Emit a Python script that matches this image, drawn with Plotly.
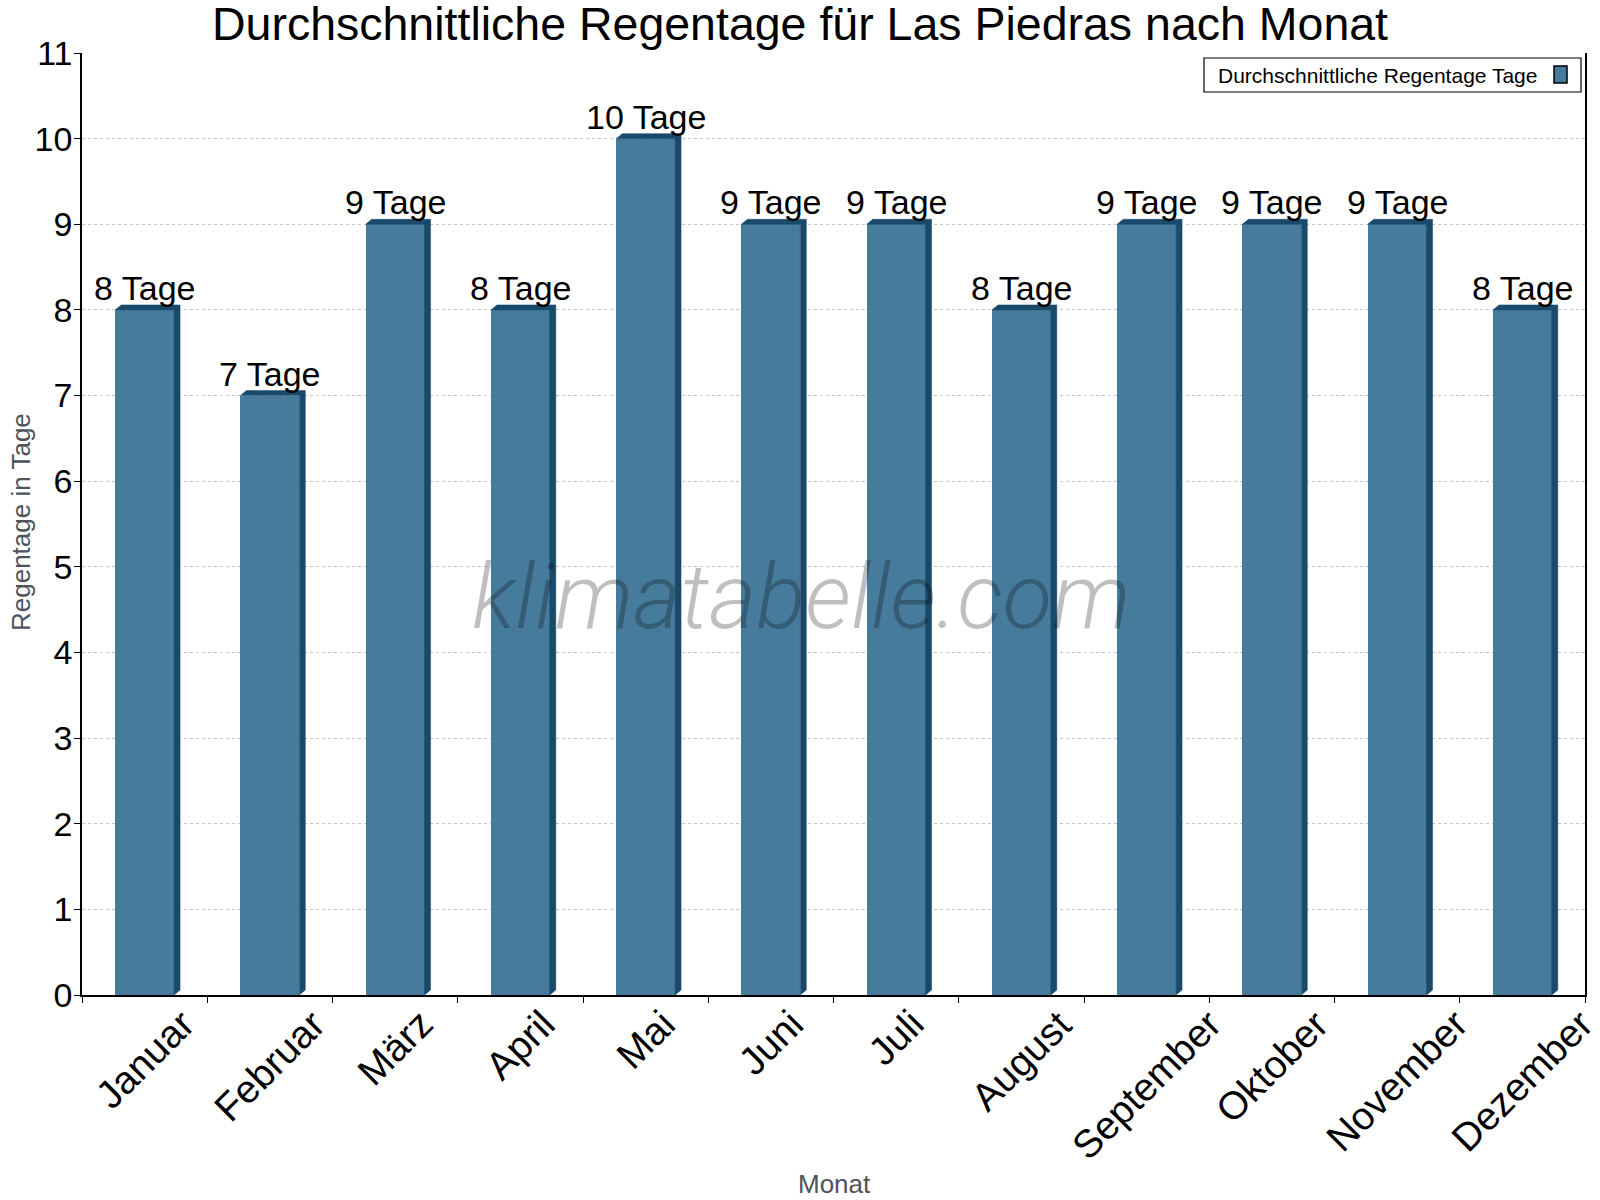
import plotly.graph_objects as go

months = ["Januar", "Februar", "März", "April", "Mai", "Juni", "Juli",
          "August", "September", "Oktober", "November", "Dezember"]
rain_days = [8, 7, 9, 8, 10, 9, 9, 8, 9, 9, 9, 8]
unit = "Tage"
series_name = "Durchschnittliche Regentage Tage"
title_text = "Durchschnittliche Regentage für Las Piedras nach Monat"
y_ticks = list(range(0, 12))

FRONT = "#477b9c"
DARK = "#194a6b"
FONT = "Liberation Sans, Arial"

W = 1600
H = 1200
ml, mr, mt, mb = 82, 15, 53, 205
plot_w = W - ml - mr
plot_h = H - mt - mb
ymax = 11
px_x = len(months) / plot_w        # data units per pixel (x)
px_y = ymax / plot_h               # data units per pixel (y)


def fx(px):
    """pixel x (from left of page) -> paper fraction"""
    return (px - ml) / plot_w


def fy(py):
    """pixel y (from top of page) -> paper fraction"""
    return (H - py - mb) / plot_h


bar_w = 0.47
dx = 6 * px_x
dy = 5 * px_y

xs = list(range(len(months)))

# 3D side/top faces derived from the data values
px, py = [], []
for i, v in zip(xs, rain_days):
    x0 = i - bar_w / 2
    x1 = i + bar_w / 2
    pts = [(x0, v), (x0 + dx, v + dy), (x1 + dx, v + dy), (x1 + dx, dy),
           (x1, 0), (x1, v), (x0, v)]
    for a, b in pts:
        px.append(a)
        py.append(b)
    px.append(None)
    py.append(None)

fig = go.Figure()
fig.add_trace(go.Bar(
    x=xs, y=rain_days, width=bar_w,
    marker=dict(color=FRONT, line=dict(width=0)),
    name=series_name, showlegend=False, hoverinfo="skip"))
fig.add_trace(go.Scatter(
    x=px, y=py, mode="lines", fill="toself", fillcolor=DARK,
    line=dict(color=DARK, width=0.5), showlegend=False, hoverinfo="skip"))

annotations = []
for i, v in zip(xs, rain_days):
    annotations.append(dict(
        x=i, y=v, xref="x", yref="y", text=f"{v} {unit}",
        showarrow=False, yanchor="bottom", yshift=1,
        font=dict(family=FONT, size=34, color="#000")))

# month labels (rotated, centred under each category)
for i, m in zip(xs, months):
    annotations.append(dict(
        x=i, y=0, xref="x", yref="paper", text=m, textangle=-45,
        showarrow=False, xanchor="center", yanchor="top", yshift=-4,
        font=dict(family=FONT, size=39, color="#000")))

# watermark
annotations.append(dict(
    x=fx(801), y=fy(597), xref="paper", yref="paper", text="klimatabelle.com",
    showarrow=False, xanchor="center", yanchor="middle",
    font=dict(family="Roboto", size=91, color="rgba(0,0,0,0.25)",
              style="italic", weight=300)))

# axis titles
annotations.append(dict(
    x=fx(834), y=fy(1184), xref="paper", yref="paper", text="Monat",
    showarrow=False, xanchor="center", yanchor="middle",
    font=dict(family=FONT, size=26, color="#4d535b")))
annotations.append(dict(
    x=fx(21), y=fy(522), xref="paper", yref="paper", text="Regentage in Tage",
    showarrow=False, textangle=-90, xanchor="center", yanchor="middle",
    font=dict(family=FONT, size=26, color="#4d535b")))

# legend text
annotations.append(dict(
    x=fx(1216), y=fy(75), xref="paper", yref="paper",
    text=series_name, showarrow=False, xanchor="left", yanchor="middle",
    font=dict(family=FONT, size=21, color="#000")))

shapes = [
    dict(type="rect", xref="paper", yref="paper",
         x0=fx(1204), x1=fx(1581), y0=fy(92), y1=fy(58),
         fillcolor="#fff", line=dict(color="#000", width=1.2), layer="above"),
    dict(type="rect", xref="paper", yref="paper",
         x0=fx(1554), x1=fx(1567), y0=fy(83), y1=fy(66),
         fillcolor=FRONT, line=dict(color="#000", width=1.5), layer="above"),
]

fig.update_layout(
    width=W, height=H,
    margin=dict(l=ml, r=mr, t=mt, b=mb, pad=0),
    paper_bgcolor="white", plot_bgcolor="white",
    title=dict(text=title_text, x=0.5, xref="container", xanchor="center",
               y=1 - 24 / H, yanchor="middle",
               font=dict(family=FONT, size=46.5, color="#000")),
    showlegend=False,
    bargap=0,
    annotations=annotations,
    shapes=shapes,
    xaxis=dict(
        range=[-0.5, len(months) - 0.5],
        tickmode="array", tickvals=xs, showticklabels=False,
        ticks="", showgrid=False, zeroline=False,
        showline=True, linecolor="#000", linewidth=1.5,
        minor=dict(ticks="outside", tick0=-0.5, dtick=1, ticklen=6,
                   tickcolor="#000", showgrid=False),
        fixedrange=True),
    yaxis=dict(
        range=[0, ymax], tickmode="array", tickvals=y_ticks,
        ticks="outside", ticklen=6, tickcolor="#000",
        showgrid=True, gridcolor="#c4c4c4", griddash="dot", gridwidth=1,
        zeroline=False, showline=True, linecolor="#000", linewidth=1.5,
        mirror=True, ticklabelstandoff=-5,
        tickfont=dict(family=FONT, size=34, color="#000"),
        fixedrange=True),
)

fig.write_html("out.html")
